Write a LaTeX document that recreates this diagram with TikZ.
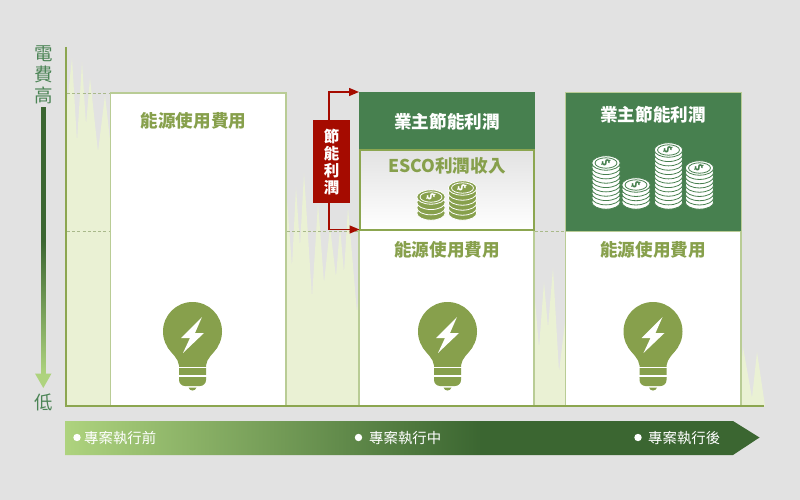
\documentclass[tikz,border=0pt]{standalone}
\usepackage{fontspec}
\setmainfont{Noto Sans CJK TC}
\usetikzlibrary{arrows.meta,calc}
\definecolor{bgc}{HTML}{E2E2E2}
\definecolor{spike}{HTML}{EAF1D4}
\definecolor{olive}{HTML}{87A04C}
\definecolor{axisc}{HTML}{8CA650}
\definecolor{edge}{HTML}{B9CC95}
\definecolor{dashc}{HTML}{A9B98A}
\definecolor{owner}{HTML}{47804F}
\definecolor{redc}{HTML}{A50B00}
\definecolor{labgreen}{HTML}{4B8455}
\definecolor{dark}{HTML}{3B6631}
\definecolor{light}{HTML}{AED37E}
\pgfdeclarehorizontalshading{barshade}{100bp}{color(0bp)=(light); color(25bp)=(light); color(55bp)=(dark); color(100bp)=(dark)}
\pgfdeclareverticalshading{axshade}{100bp}{color(0bp)=(light); color(25bp)=(light); color(50bp)=(dark); color(100bp)=(dark)}
\tikzset{
  boxw/.style={draw=edge,line width=1.4pt,fill=white,inner sep=0pt,outer sep=0pt},
  ownerb/.style={fill=owner,inner sep=0pt,outer sep=0pt},
  head/.style={font=\fontsize{17.6}{20}\selectfont\bfseries,inner sep=0pt},
  dashl/.style={draw=dashc,line width=1pt,dash pattern=on 3pt off 2.2pt},
  spk/.style={fill=spike},
  stage/.style={text=white,font=\fontsize{14.4}{16}\selectfont,anchor=west,inner sep=0pt},
  dotn/.style={circle,fill=white,inner sep=0pt,minimum size=7.4pt},
  side/.style={text=labgreen,font=\fontsize{18.5}{21}\selectfont,align=center,inner sep=0pt},
  redarrow/.style={draw=redc,line width=1.3pt,-{Triangle[length=10pt,width=8pt]}}
}
\newcommand\bulbicon[1]{%
\begin{scope}[shift={(#1,331.5)}]
  \fill[olive] (0,0) circle[radius=29.5pt];
  \fill[olive] (-13.5,46) -- (-13.5,34) .. controls (-14,27) and (-21,22) .. (-25,15.5) -- (25,15.5) .. controls (21,22) and (14,27) .. (13.5,34) -- (13.5,46) -- cycle;
  \fill[olive,rounded corners=6pt] (-13.5,40) -- (-13.5,54.5) -- (13.5,54.5) -- (13.5,40) -- cycle;
  \draw[white,line width=1.7pt] (-15,36) -- (15,36) (-15,44.5) -- (15,44.5);
  \fill[olive] (-4,56) -- (4,56) .. controls (3,60) and (-3,60) .. (-4,56) -- cycle;
  \fill[white] (9.5,-14.5) -- (-11.5,6.5) -- (-2.5,6.5) -- (-9.5,21.5) -- (11.5,1.5) -- (2.5,1.5) -- cycle;
\end{scope}}
\newcommand\coinstack[7]{% name, x, topy, boty, n, main, gap
  \foreach \k in {0,...,#5}{
    \pgfmathsetmacro\yy{#4-(#4-#3)*\k/#5}
    \path[fill=#6,draw=#7,line width=.8pt] (#2,\yy) ellipse[x radius=14.2pt,y radius=7.2pt];
  }
  \draw[#7,line width=.8pt] (#2,#3) ellipse[x radius=11pt,y radius=5.2pt];
  \node (#1) at (#2,#3) [text=#7,inner sep=0pt,rotate=-65,font=\fontsize{10.5}{10.5}\selectfont\bfseries] {\$};
}
\begin{document}
\begin{tikzpicture}[x=1pt,y=-1pt]
\useasboundingbox (0,0) rectangle (800,500);
\fill[bgc] (0,0) rectangle (800,500);
% spikes
\fill[spk] (67,406) -- (67,105) -- (72,58) -- (77,142) -- (82,62) -- (86,125) -- (90,78) -- (98,152) -- (105,95) -- (110,140) -- (110,406) -- cycle;
\fill[spk] (287,406) -- (287,200) -- (292,267) -- (296,187) -- (300,247) -- (304,173) -- (312,298) -- (318,203) -- (324,283) -- (330,227) -- (336,277) -- (340,227) -- (344,273) -- (348,207) -- (357,313) -- (359,290) -- (359,406) -- cycle;
\fill[spk] (534,406) -- (534,288) -- (539,348) -- (544,282) -- (548,328) -- (553,268) -- (559,372) -- (565,322) -- (565,406) -- cycle;
\fill[spk] (741,406) -- (741,370) -- (743,347) -- (752,398) -- (757,352) -- (765,406) -- cycle;
% dashed levels
\draw[dashl] (67,93.5) -- (110,93.5);
\draw[dashl] (67,231.5) -- (110,231.5);
\draw[dashl] (287,231.5) -- (359,231.5);
\draw[dashl] (535,231.5) -- (565,231.5);
% boxes
\node[boxw,minimum width=175.5pt,minimum height=313pt] (usebox1) at (198.25,249.5) {};
\node[boxw,minimum width=175pt,minimum height=176pt] (usebox2) at (446.5,318) {};
\node[boxw,minimum width=175.5pt,minimum height=175pt] (usebox3) at (653.25,318.5) {};
\node[ownerb,minimum width=175.5pt,minimum height=57pt] (owner2) at (446.75,120.5) {};
\node[draw=axisc,line width=2pt,top color=bgc,bottom color=white,inner sep=0pt,outer sep=0pt,minimum width=174pt,minimum height=80pt] (esco) at (446.5,189.5) {};
\node[draw=edge,line width=1pt,fill=owner,inner sep=0pt,outer sep=0pt,minimum width=175.5pt,minimum height=138pt] (owner3) at (653.25,162) {};
% axes
\draw[axisc,line width=1.5pt] (66,47) -- (66,406.5);
\draw[axisc,line width=1.5pt] (65.3,406) -- (764,406);
% labels
\node[head,text=olive] (lab1) at (193.5,121) {能源使用費用};
\node[head,text=white] (lab2) at (447,122) {業主節能利潤};
\node[head,text=olive] (lab3) at (447,166) {ESCO利潤收入};
\node[head,text=olive] (lab4) at (447,250) {能源使用費用};
\node[head,text=white] (lab5) at (653,115) {業主節能利潤};
\node[head,text=olive] (lab6) at (653,250) {能源使用費用};
% bulbs
\bulbicon{192.5}
\bulbicon{447.5}
\bulbicon{653}
% coins
\coinstack{ca}{431}{197}{213}{3}{olive}{white}
\coinstack{cb}{462.5}{188}{213}{5}{olive}{white}
\coinstack{cc}{606}{163}{202}{9}{white}{owner}
\coinstack{cd}{636}{185}{202}{4}{white}{owner}
\coinstack{ce}{668.5}{150}{202}{12}{white}{owner}
\coinstack{cf}{699.5}{168}{202}{8}{white}{owner}
% saving bracket
\node[fill=redc,inner sep=0pt,outer sep=0pt,minimum width=36.5pt,minimum height=83pt] (saving) at (331.25,161.5) {};
\node[text=white,font=\fontsize{15.5}{16.7}\selectfont\bfseries,align=center,inner sep=0pt] (savingt) at (331.5,162) {節\\能\\利\\潤};
\draw[redarrow] ([xshift=-2.3pt]saving.north) |- (owner2.north west);
\draw[redarrow] ([xshift=-2.3pt]saving.south) |- (esco.south west);
% cost axis
\node[side] (high) at (44,74.5) {電\\費\\高};
\node[side] (low) at (44,402) {低};
\shade[shading=axshade] (41,108) rectangle (45.8,374);
\fill[light] (35,373.5) -- (51.5,373.5) -- (43.3,388) -- cycle;
% timeline
\shade[shading=barshade] (65,421) -- (733,421) -- (759.5,437.5) -- (733,455) -- (65,455) -- cycle;
\node[dotn] (d1) at (77,437.5) {};
\node[stage] (s1) at (84,438) {專案執行前};
\node[dotn] (d2) at (358.5,437.5) {};
\node[stage] (s2) at (369,438) {專案執行中};
\node[dotn] (d3) at (638,437.5) {};
\node[stage] (s3) at (648,438) {專案執行後};
\end{tikzpicture}
\end{document}
